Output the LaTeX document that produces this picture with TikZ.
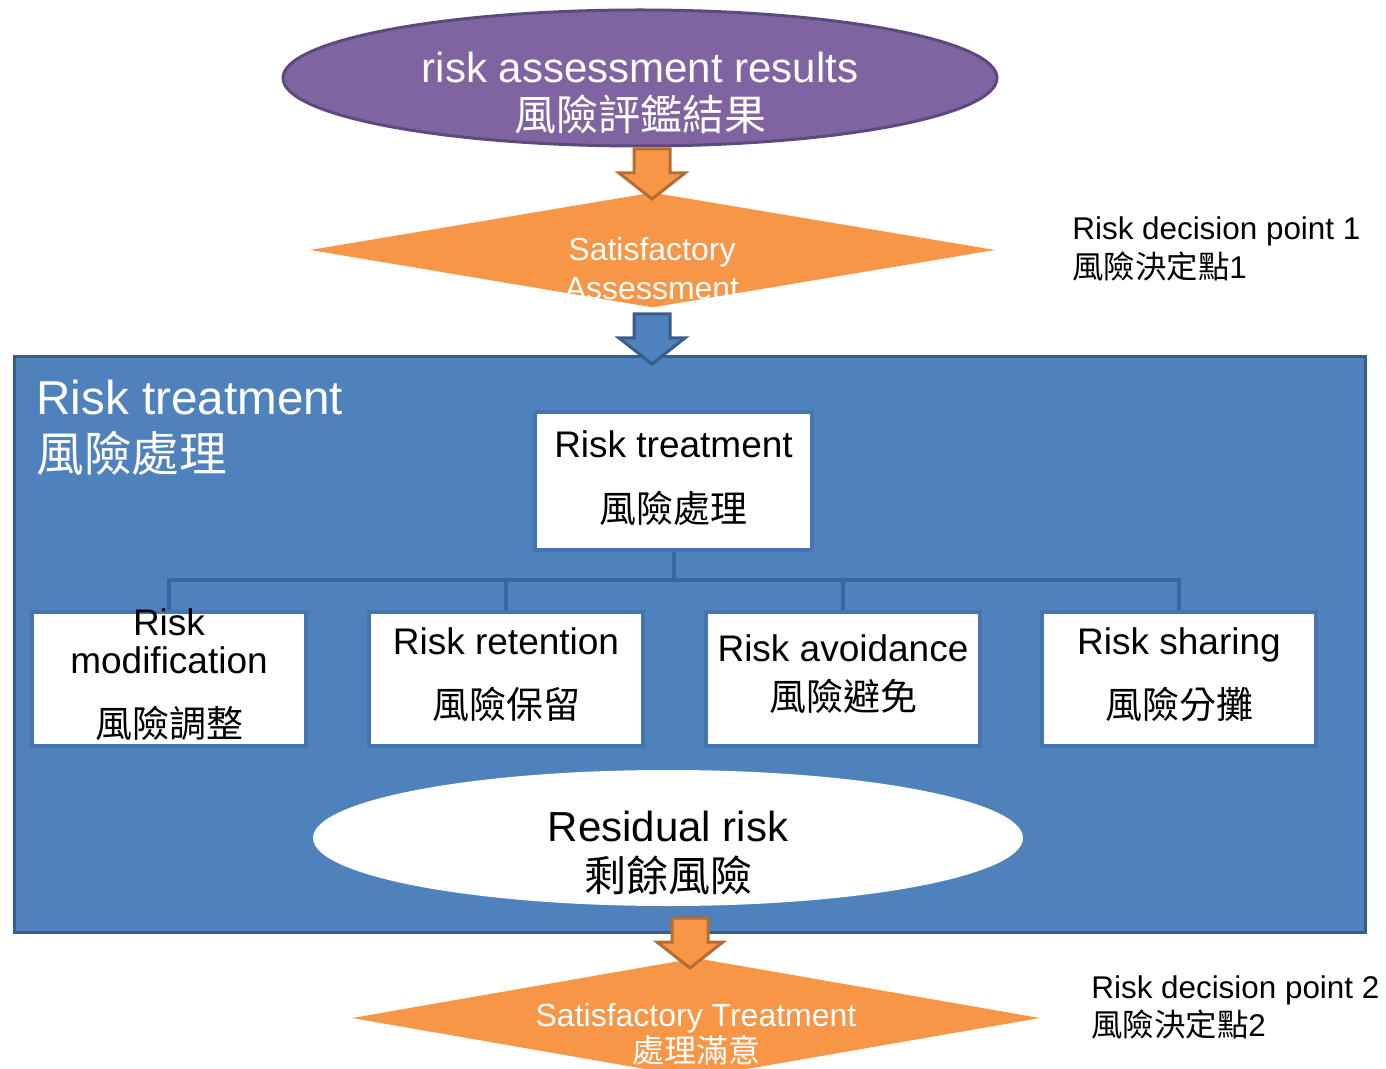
\documentclass[tikz,border=0pt]{standalone}
\usepackage{fontspec}
\setmainfont{Liberation Sans}
\newfontfamily\cjk{Noto Sans CJK TC}
\usetikzlibrary{positioning, shapes.geometric}

\definecolor{purplefill}{HTML}{8064A2}
\definecolor{purpleline}{HTML}{5C4A7E}
\definecolor{orangefill}{HTML}{F79646}
\definecolor{orangeline}{HTML}{B66D31}
\definecolor{bluefill}{HTML}{4F81BD}
\definecolor{blueline}{HTML}{385D8A}
\definecolor{boxline}{HTML}{4674AE}
\definecolor{linkline}{HTML}{3C669B}

\tikzset{
  blockarrow/.pic={\path[pic actions] (-18,0) -- (18,0) -- (18,24) -- (33,24) -- (0,50) -- (-33,24) -- (-18,24) -- cycle;},
  decision/.style={diamond, fill=orangefill, inner sep=0pt},
  whitetext/.style={text=white, align=center, inner sep=0pt},
  treatbox/.style={rectangle, fill=white, draw=boxline, line width=2pt, minimum width=137pt, minimum height=67pt},
  blacktext/.style={align=center, inner sep=0pt},
  link/.style={draw=linkline, line width=2pt},
}

\begin{document}
\begin{tikzpicture}[x=0.5pt, y=-0.5pt]
  \useasboundingbox (0,0) rectangle (1386,1069);

  % top
  \node[ellipse, fill=purplefill, draw=purpleline, line width=1.5pt, minimum width=357pt, minimum height=68pt] (results) at (640,78) {};
  \node[whitetext, font=\fontsize{21}{24}\selectfont] (resultstxt) at (640,93) {risk assessment results\\{\cjk 風險評鑑結果}};

  \node[decision, minimum width=342.5pt, minimum height=57.5pt] (sat1) at (652.5,250) {};
  \node[whitetext, font=\fontsize{16}{19.5}\selectfont] (sat1txt) at (652,269) {Satisfactory\\Assessment};

  \node[blacktext, align=left, anchor=west, font=\fontsize{15.7}{19.5}\selectfont] (point1) at (1072,249) {Risk decision point 1\\{\cjk 風險決定點}1};

  % treatment frame
  \node[rectangle, fill=bluefill, draw=blueline, line width=1.5pt, minimum width=675.5pt, minimum height=287.5pt] (frame) at (689.5,644.5) {};
  \node[whitetext, align=left, anchor=west, font=\fontsize{23.8}{28.5}\selectfont] (frametxt) at (36,428) {Risk treatment\\{\cjk 風險處理}};

  \node[treatbox, minimum width=138.5pt, minimum height=69pt] (treat) at (673.5,481) {};
  \node[blacktext, font=\fontsize{18.5}{32.5}\selectfont] (treattxt) at (673.5,478) {Risk treatment\\{\cjk 風險處理}};

  \node[treatbox] (modif) at (169,679) {};
  \node[treatbox] (retain) at (506,679) {};
  \node[treatbox] (avoid) at (843,679) {};
  \node[treatbox] (share) at (1179,679) {};

  \node[blacktext, font=\fontsize{18.5}{19}\selectfont] (modiftxt) at (169,675) {Risk\\modification\\[13pt]{\cjk 風險調整}};
  \node[blacktext, font=\fontsize{18.5}{32}\selectfont] (retaintxt) at (506,675) {Risk retention\\{\cjk 風險保留}};
  \node[blacktext, font=\fontsize{18.5}{24.5}\selectfont] (avoidtxt) at (843,674) {Risk avoidance\\{\cjk 風險避免}};
  \node[blacktext, font=\fontsize{18.5}{32}\selectfont] (sharetxt) at (1179,675) {Risk sharing\\{\cjk 風險分攤}};

  \coordinate (split) at (673.5,580);
  \path[link] (treat.south) -- (split);
  \path[link] (split) -| (modif.north);
  \path[link] (split) -| (retain.north);
  \path[link] (split) -| (avoid.north);
  \path[link] (split) -| (share.north);

  \node[ellipse, fill=white, minimum width=355pt, minimum height=68pt] (resid) at (668,838) {};
  \node[blacktext, font=\fontsize{21}{25}\selectfont] (residtxt) at (668,853) {Residual risk\\{\cjk 剩餘風險}};

  % bottom
  \node[decision, minimum width=344pt, minimum height=60pt] (sat2) at (696,1018) {};
  \node[whitetext, font=\fontsize{16}{18}\selectfont] (sat2txt) at (696,1034) {Satisfactory Treatment\\{\cjk 處理滿意}};

  \node[blacktext, align=left, anchor=west, font=\fontsize{15.7}{19}\selectfont] (point2) at (1091,1007) {Risk decision point 2\\{\cjk 風險決定點}2};

  % block arrows
  \coordinate (arrowA) at (652,149);
  \coordinate (arrowB) at (652,314);
  \coordinate (arrowC) at (690,918);
  \pic[fill=orangefill, draw=orangeline, line width=1.5pt] at (arrowA) {blockarrow};
  \pic[fill=bluefill, draw=blueline, line width=1.5pt] at (arrowB) {blockarrow};
  \pic[fill=orangefill, draw=orangeline, line width=1.5pt] at (arrowC) {blockarrow};
\end{tikzpicture}
\end{document}
